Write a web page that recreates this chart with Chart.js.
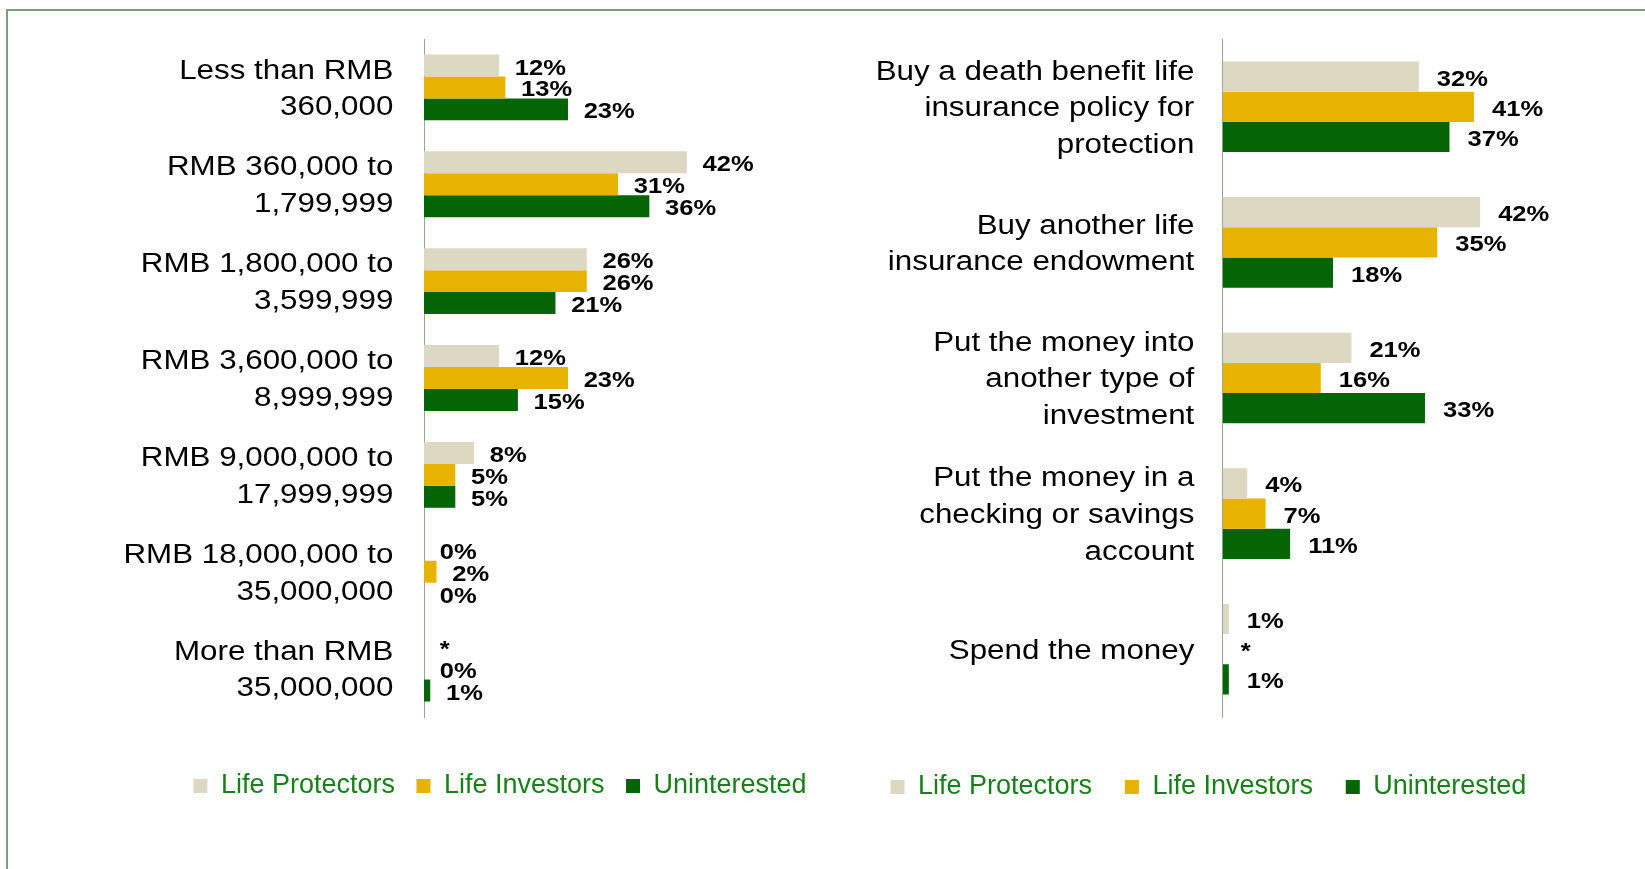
<!DOCTYPE html>
<html>
<head>
<meta charset="utf-8">
<title>Income and plans by segment</title>
<script src="https://cdn.jsdelivr.net/npm/chart.js@4.4.0/dist/chart.umd.min.js"></script>
<style>
  html, body { margin: 0; padding: 0; background: #ffffff; width: 1645px; height: 869px; overflow: hidden; }
  #frame { position: absolute; left: 6px; top: 9px; width: 1700px; height: 900px; box-sizing: border-box;
           border-top: 2px solid #7a9f7a; border-left: 2px solid #7a9f7a; }
  .panel { position: absolute; top: 0; height: 869px; }
  #leftPanel { left: 0; width: 850px; }
  #rightPanel { left: 850px; width: 795px; }
</style>
</head>
<body>
<div id="frame"></div>
<div class="panel" id="leftPanel"><canvas id="incomeChart"></canvas></div>
<div class="panel" id="rightPanel"><canvas id="planChart"></canvas></div>
<script>
// Segments shown in both panels
const seriesNames = ['Life Protectors', 'Life Investors', 'Uninterested'];
const seriesColors = ['#dcd8c2', '#e8b200', '#056505'];

// Left panel: household income bands (% of each segment); null = "*"
const incomeCategories = [
  ['Less than RMB', '360,000'],
  ['RMB 360,000 to', '1,799,999'],
  ['RMB 1,800,000 to', '3,599,999'],
  ['RMB 3,600,000 to', '8,999,999'],
  ['RMB 9,000,000 to', '17,999,999'],
  ['RMB 18,000,000 to', '35,000,000'],
  ['More than RMB', '35,000,000']
];
const incomeProtectors   = [12, 42, 26, 12, 8, 0, null];
const incomeInvestors    = [13, 31, 26, 23, 5, 2, 0];
const incomeUninterested = [23, 36, 21, 15, 5, 0, 1];

// Right panel: what they would do with the money (% of each segment); null = "*"
const planCategories = [
  ['Buy a death benefit life', 'insurance policy for', 'protection'],
  ['Buy another life', 'insurance endowment'],
  ['Put the money into', 'another type of', 'investment'],
  ['Put the money in a', 'checking or savings', 'account'],
  ['Spend the money']
];
const planProtectors   = [32, 42, 21, 4, 1];
const planInvestors    = [41, 35, 16, 7, null];
const planUninterested = [37, 18, 33, 11, 1];

const FONT = "'Liberation Sans', Arial, sans-serif";
const STRETCH = 1.16; // labels are drawn slightly widened

// Draws category labels and value labels with a horizontal widening
const wideText = {
  id: 'wideText',
  afterDatasetsDraw(chart, args, opts) {
    const ctx = chart.ctx;
    const xs = chart.scales.x, ys = chart.scales.y;
    ctx.save();
    ctx.fillStyle = '#000000';
    ctx.textBaseline = 'middle';

    ctx.font = '27px ' + FONT;
    ctx.textAlign = 'right';
    chart.data.labels.forEach((lines, i) => {
      const cy = ys.getPixelForTick(i) + 2;
      const n = lines.length;
      lines.forEach((line, k) => {
        const ly = cy + (k - (n - 1) / 2) * opts.lineHeight;
        ctx.save();
        ctx.translate(ys.right - opts.labelGap, ly);
        ctx.scale(STRETCH, 1);
        ctx.fillText(line, 0, 0);
        ctx.restore();
      });
    });

    ctx.font = 'bold 22px ' + FONT;
    ctx.textAlign = 'left';
    chart.data.datasets.forEach((ds, d) => {
      const meta = chart.getDatasetMeta(d);
      meta.data.forEach((bar, i) => {
        const v = ds.data[i];
        const end = xs.getPixelForValue(v == null ? 0 : v);
        const text = v == null ? '*' : v + '%';
        ctx.save();
        ctx.translate(end + opts.valueGap, bar.y + 3);
        ctx.scale(STRETCH, 1);
        ctx.fillText(text, 0, 0);
        ctx.restore();
      });
    });
    ctx.restore();
  }
};

function buildChart(canvasId, categories, series, layout) {
  return new Chart(document.getElementById(canvasId), {
    type: 'bar',
    data: {
      labels: categories,
      datasets: series.map((values, k) => ({
        label: seriesNames[k],
        data: values,
        backgroundColor: seriesColors[k],
        borderWidth: 0,
        categoryPercentage: layout.groupShare,
        barPercentage: 1
      }))
    },
    options: {
      indexAxis: 'y',
      responsive: true,
      maintainAspectRatio: false,
      animation: false,
      layout: { padding: layout.padding },
      scales: {
        x: {
          min: 0, max: layout.xMax,
          ticks: { display: false },
          grid: { display: false },
          border: { display: false },
          afterFit(s) { s.height = layout.axisGap; }
        },
        y: {
          ticks: { display: false },
          grid: { display: false },
          border: { display: true, color: '#8fa88f', width: 1 },
          afterFit(s) { s.width = layout.labelWidth; }
        }
      },
      plugins: {
        legend: {
          position: 'bottom',
          labels: {
            color: '#188018',
            font: { family: FONT, size: 27 },
            boxWidth: 14, boxHeight: 14,
            padding: layout.legendPadding
          }
        },
        tooltip: { enabled: false },
        wideText: { labelGap: layout.labelGap, valueGap: layout.valueGap, lineHeight: 36.7 }
      }
    },
    plugins: [wideText]
  });
}

buildChart('incomeChart', incomeCategories,
  [incomeProtectors, incomeInvestors, incomeUninterested],
  {
    padding: { top: 39, left: 169.1, right: 19.1, bottom: 59.5 },
    labelWidth: 254.9, xMax: 65, axisGap: 34, legendPadding: 21.5,
    labelGap: 30.7, valueGap: 15.7, groupShare: 0.68
  });

buildChart('planChart', planCategories,
  [planProtectors, planInvestors, planUninterested],
  {
    padding: { top: 39, left: 0, right: 78.1, bottom: 58.5 },
    labelWidth: 372.7, xMax: 56.15, axisGap: 23.7, legendPadding: 32.8,
    labelGap: 28.4, valueGap: 18, groupShare: 0.668
  });
</script>
</body>
</html>
